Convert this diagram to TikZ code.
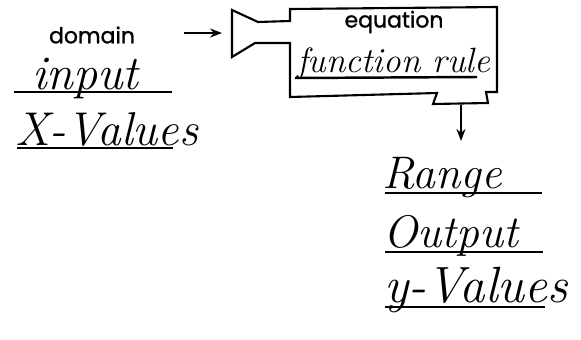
\documentclass[tikz,border=0pt]{standalone}
\usepackage{fontspec}
\newfontfamily\labelfont[FakeBold=1.2]{Poppins}
\usetikzlibrary{arrows.meta}

\begin{document}
\begin{tikzpicture}[x=0.02cm, y=-0.02cm]
    % Define line width
    \def\penWidth{1.2pt}

    \definecolor{inkColour}{HTML}{000000}

    \tikzset{
        printed/.style={font=\labelfont\fontsize{12.5}{14}\selectfont, inner sep=0pt},
        hand/.style={font=\fontsize{26}{30}\selectfont\itshape, inner sep=0pt, anchor=base west},
        rule/.style={draw=inkColour, line width=1.4pt},
        flow/.style={draw=inkColour, line width=\penWidth, -{Stealth[length=0.24cm, width=0.18cm]}}
    }

    % Fix the page size
    \useasboundingbox (0,0) rectangle (581,339);

    % Draw the function machine
    \draw[inkColour, line width=\penWidth, line join=miter]
        (232,10) -- (258,22) -- (290,21) -- (290,9) -- (497,7) -- (497,92)
        -- (486,92) -- (488,103) -- (433,104) -- (437,93) -- (290,97)
        -- (290,43) -- (255,43) -- (232,57) -- cycle;
    \coordinate (mouth) at (232,33);
    \coordinate (spout) at (461,105);

    % Input side
    \node[printed] (domain) at (92,35) {domain};
    \node[hand, font=\fontsize{27.5}{30}\selectfont\itshape] (input) at (32,89) {input};
    \node[hand, font=\fontsize{27}{30}\selectfont\itshape] (xvalues) at (15,145) {X-Values};
    \draw[rule] (14,92) -- (172,92);
    \draw[rule] (17,148) -- (173,148);

    % Inside the machine
    \node[printed] (equation) at (394,22) {equation};
    \node[hand, font=\fontsize{20}{24}\selectfont\itshape] (rule) at (297,72) {function rule};
    \draw[rule] (295,78) -- (477,77);

    % Output side
    \node[hand] (range) at (382,188) {Range};
    \node[hand] (output) at (383,247) {Output};
    \node[hand, font=\fontsize{29}{32}\selectfont\itshape] (yvalues) at (384,302) {y-Values};
    \draw[rule] (385,193) -- (542,193);
    \draw[rule] (385,252) -- (543,252);
    \draw[rule] (385,307) -- (545,307);

    % Draw the arrows
    \coordinate (feed) at (184,33);
    \coordinate (drop) at (461,141);
    \draw[flow] (feed) -- ([xshift=-0.2cm]mouth);
    \draw[flow] (spout) -- (drop);

\end{tikzpicture}
\end{document}
